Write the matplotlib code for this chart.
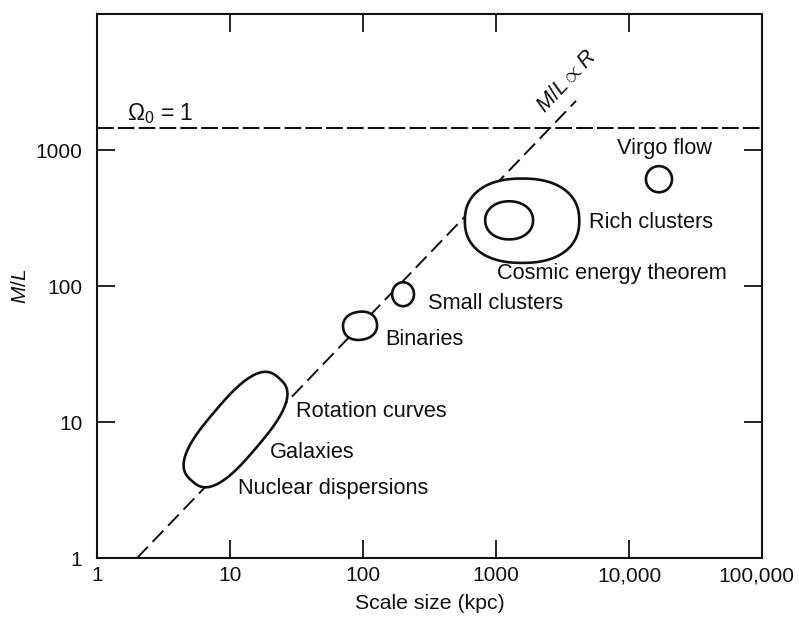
import numpy as np
import matplotlib
matplotlib.use("Agg")
import matplotlib.pyplot as plt
import matplotlib.transforms as mtransforms

plt.rcParams['font.family'] = ['Liberation Sans', 'DejaVu Sans']
plt.rcParams['mathtext.fontset'] = 'custom'
plt.rcParams['mathtext.rm'] = 'Liberation Sans'
plt.rcParams['mathtext.it'] = 'Liberation Sans:italic'

# regions in the (scale size, M/L) plane: centre, half-widths in decades, tilt, squareness
names = ['Galaxies', 'Binaries', 'Small clusters', 'Rich clusters (outer)', 'Rich clusters (inner)', 'Virgo flow']
cen_r = [11.0, 95, 200, 1570, 1255, 16800]
cen_ml = [8.8, 51, 87, 302, 304, 610]
half_a = [0.5, 0.128, 0.082, 0.43, 0.18, 0.098]
half_b = [0.205, 0.103, 0.088, 0.31, 0.14, 0.096]
tilt = [49, 8, 0, 0, 0, 0]
squareness = [2.8, 2.2, 2.0, 2.3, 2.1, 2.0]

# M/L proportional to R
line_r = [2, 4000]
line_ml = [1, 2300]
omega_ml = 1450

x_ticks = [1, 10, 100, 1000, 10000, 100000]
x_labels = ['1', '10', '100', '1000', '10,000', '100,000']
y_ticks = [1, 10, 100, 1000]
y_labels = ['1', '10', '100', '1000']


def outline(cx, cy, a, b, ang, n):
    t = np.linspace(0, 2 * np.pi, 400)
    c, s = np.cos(t), np.sin(t)
    u = a * np.sign(c) * np.abs(c) ** (2 / n)
    v = b * np.sign(s) * np.abs(s) ** (2 / n)
    th = np.radians(ang)
    lx = np.log10(cx) + u * np.cos(th) - v * np.sin(th)
    ly = np.log10(cy) + u * np.sin(th) + v * np.cos(th)
    return 10 ** lx, 10 ** ly


fig = plt.figure(figsize=(7.99, 6.17), dpi=100)
ax = fig.add_axes([0.1214, 0.0956, 0.8323, 0.8817])
ax.set_xscale('log')
ax.set_yscale('log')
ax.set_xlim(1, 100000)
ax.set_ylim(1, 10000)

ink = '#111111'
ax.plot(line_r, line_ml, color=ink, lw=1.4, dashes=(8, 3.5), zorder=2)
ax.axhline(omega_ml, color=ink, lw=1.5, dashes=(8, 2), zorder=2)

for i in range(len(names)):
    xs, ys = outline(cen_r[i], cen_ml[i], half_a[i], half_b[i], tilt[i], squareness[i])
    ax.fill(xs, ys, facecolor='white', edgecolor=ink, lw=1.9, zorder=3 + i)

fs = 15.7
ax.text(8130, 1030, 'Virgo flow', fontsize=fs, color=ink, va='center')
ax.text(5000, 294, 'Rich clusters', fontsize=fs, color=ink, va='center')
ax.text(1018, 124, 'Cosmic energy theorem', fontsize=fs, color=ink, va='center')
ax.text(308, 74.5, 'Small clusters', fontsize=fs, color=ink, va='center')
ax.text(146, 40.4, 'Binaries', fontsize=fs, color=ink, va='center')
ax.text(31.3, 11.9, 'Rotation curves', fontsize=fs, color=ink, va='center')
ax.text(20, 5.94, 'Galaxies', fontsize=fs, color=ink, va='center')
ax.text(11.5, 3.22, 'Nuclear dispersions', fontsize=fs, color=ink, va='center')
ax.text(1.68, 1840, r'$\Omega_0$ = 1', fontsize=16.5, color=ink, va='center')
ax.text(3400, 3170, r'$M/L \propto R$', fontsize=fs, color=ink, va='center', ha='center',
        rotation=47, rotation_mode='anchor')

ax.set_xticks(x_ticks)
ax.set_xticklabels(x_labels)
ax.set_yticks(y_ticks)
ax.set_yticklabels(y_labels)
ax.minorticks_off()
ax.tick_params(axis='both', which='major', direction='in', length=13, width=1.3,
               labelsize=15, colors=ink, top=True, right=True)
ax.tick_params(axis='x', pad=6)
ax.tick_params(axis='y', pad=10.5)
for sp in ax.spines.values():
    sp.set_linewidth(1.5)
    sp.set_color(ink)

ax.set_xlabel('Scale size (kpc)', fontsize=15.3, color=ink, labelpad=6)
ax.set_ylabel(r'$M/L$', fontsize=15, color=ink, labelpad=4)

# nudge the last x tick label so it stays inside the figure
fig.canvas.draw()
lab = ax.get_xticklabels()[-1]
lab.set_transform(lab.get_transform() + mtransforms.ScaledTranslation(-4 / 72, 0, fig.dpi_scale_trans))

plt.savefig('out.png', dpi=100)
